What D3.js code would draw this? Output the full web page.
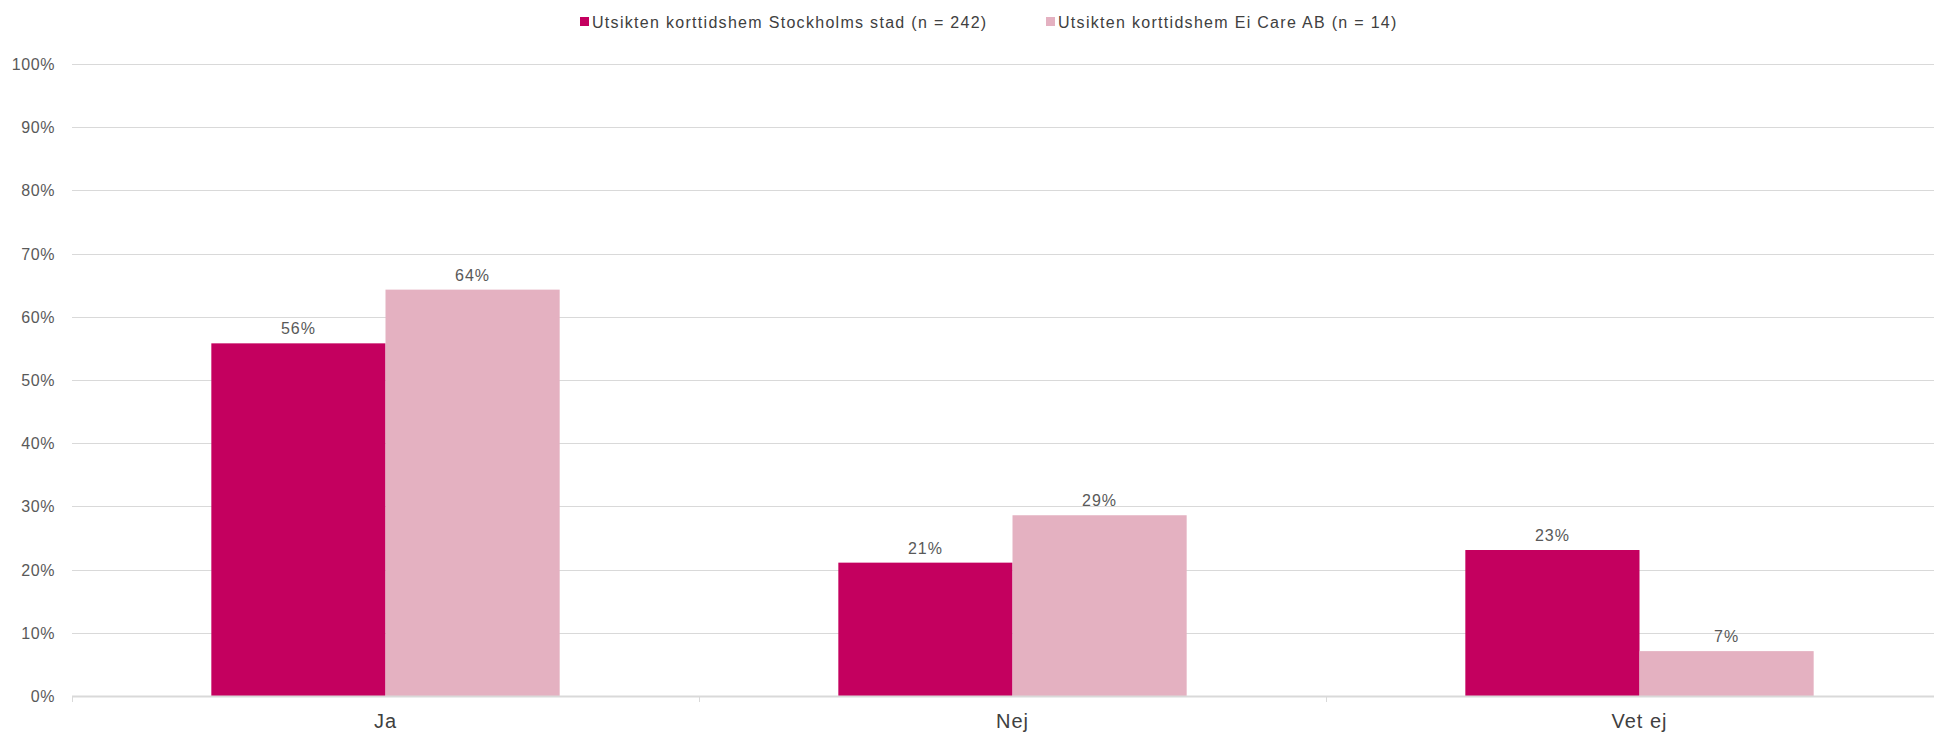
<!DOCTYPE html>
<html>
<head>
<meta charset="utf-8">
<script src="https://cdn.jsdelivr.net/npm/d3@7"></script>
<style>
  html, body { margin: 0; padding: 0; background: #fff; }
  svg { display: block; font-family: "Liberation Sans", Arial, sans-serif; }
</style>
</head>
<body>
<svg id="chart" width="1936" height="733"></svg>
<script>
const categories = ["Ja", "Nej", "Vet ej"];
const seriesNames = ["Utsikten korttidshem Stockholms stad (n = 242)", "Utsikten korttidshem Ei Care AB (n = 14)"];
const stockholmValues = [0.558, 0.211, 0.231];
const eiCareValues = [0.643, 0.286, 0.071];
const stockholmLabels = ["56%", "21%", "23%"];
const eiCareLabels = ["64%", "29%", "7%"];
const yTicks = [0, 0.1, 0.2, 0.3, 0.4, 0.5, 0.6, 0.7, 0.8, 0.9, 1.0];
const colors = ["#C4005F", "#E4B1C1"];

(function () {
const svg = d3.select("#chart");
const plotLeft = 72, bandRight = 1953, gridRight = 1934, plotTop = 64, plotBottom = 696;

const x0 = d3.scaleBand().domain(categories).range([plotLeft, bandRight]).paddingInner(0).paddingOuter(0);
const x1 = d3.scaleBand().domain([0, 1]).range([0, x0.bandwidth()]).paddingInner(0).paddingOuter(0.8);
const y = d3.scaleLinear().domain([0, 1]).range([plotBottom, plotTop]);

// gridlines
svg.append("g").selectAll("line").data(yTicks.filter(d => d > 0)).join("line")
  .attr("x1", plotLeft).attr("x2", gridRight)
  .attr("y1", d => Math.round(y(d)) + 0.5).attr("y2", d => Math.round(y(d)) + 0.5)
  .attr("stroke", "#d9d9d9").attr("stroke-width", 1);

// y tick labels
svg.append("g").selectAll("text").data(yTicks).join("text")
  .attr("x", 55).attr("y", d => y(d) + 6)
  .attr("text-anchor", "end")
  .attr("font-size", 16).attr("letter-spacing", 0.6)
  .attr("fill", "#595959")
  .text(d => d3.format(".0%")(d));

// bars
const series = [
  { values: stockholmValues, labels: stockholmLabels },
  { values: eiCareValues, labels: eiCareLabels }
];
series.forEach((s, si) => {
  const g = svg.append("g");
  g.selectAll("rect").data(categories).join("rect")
    .attr("x", (c) => x0(c) + x1(si))
    .attr("width", x1.bandwidth())
    .attr("y", (c, i) => y(s.values[i]))
    .attr("height", (c, i) => y(0) - y(s.values[i]))
    .attr("fill", colors[si]);
  g.selectAll("text").data(categories).join("text")
    .attr("x", (c) => x0(c) + x1(si) + x1.bandwidth() / 2)
    .attr("y", (c, i) => y(s.values[i]) - 9)
    .attr("text-anchor", "middle")
    .attr("font-size", 16).attr("letter-spacing", 1)
    .attr("fill", "#595959")
    .text((c, i) => s.labels[i]);
});

// baseline axis
svg.append("line")
  .attr("x1", plotLeft).attr("x2", gridRight)
  .attr("y1", plotBottom + 0.5).attr("y2", plotBottom + 0.5)
  .attr("stroke", "#d9d9d9").attr("stroke-width", 2);

// category tick marks
svg.append("g").selectAll("line").data(categories).join("line")
  .attr("x1", c => Math.round(x0(c)) + 0.5).attr("x2", c => Math.round(x0(c)) + 0.5)
  .attr("y1", plotBottom).attr("y2", plotBottom + 6)
  .attr("stroke", "#d9d9d9").attr("stroke-width", 1);

// category labels
svg.append("g").selectAll("text").data(categories).join("text")
  .attr("x", c => x0(c) + x0.bandwidth() / 2)
  .attr("y", 728)
  .attr("text-anchor", "middle")
  .attr("font-size", 20).attr("letter-spacing", 1)
  .attr("fill", "#404040")
  .text(c => c);

// legend
const legendItems = [
  { x: 580, name: seriesNames[0], color: colors[0] },
  { x: 1046, name: seriesNames[1], color: colors[1] }
];
const lg = svg.append("g");
legendItems.forEach(it => {
  lg.append("rect").attr("x", it.x).attr("y", 17).attr("width", 9).attr("height", 9).attr("fill", it.color);
  lg.append("text").attr("x", it.x + 12).attr("y", 27.5)
    .attr("font-size", 16).attr("letter-spacing", 1.3)
    .attr("fill", "#404040").text(it.name);
});
})();
</script>
</body>
</html>
